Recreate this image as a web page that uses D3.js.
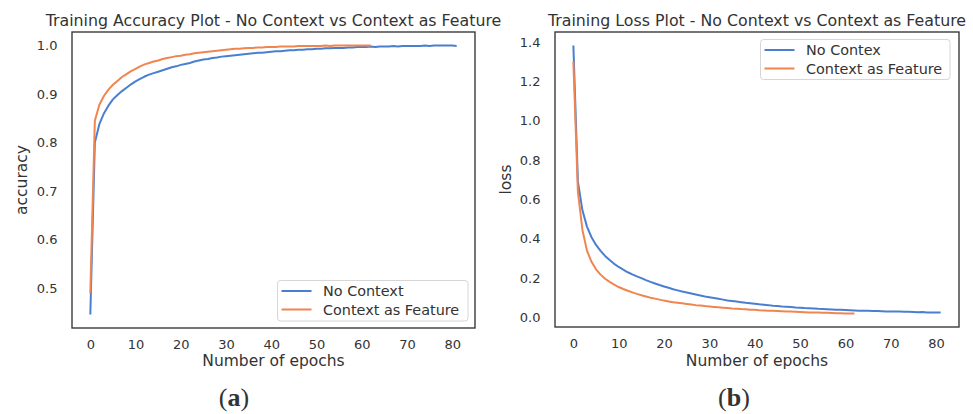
<!DOCTYPE html>
<html>
<head>
<meta charset="utf-8">
<script src="https://cdn.jsdelivr.net/npm/d3@7/dist/d3.min.js"></script>
<style>
  html, body { margin: 0; padding: 0; background: #fff; }
  svg { display: block; }
  text { font-family: "DejaVu Sans", sans-serif; fill: #333; }
</style>
</head>
<body>
<svg id="chart" width="973" height="414"></svg>
<script>
// Training accuracy per epoch (index = epoch)
const accNoContext = [
  0.446, 0.800, 0.838, 0.860, 0.876, 0.889, 0.898, 0.906, 0.913, 0.920,
  0.926, 0.931, 0.936, 0.940, 0.943, 0.946, 0.949, 0.952, 0.955, 0.957,
  0.960, 0.962, 0.964, 0.967, 0.969, 0.971, 0.972, 0.974, 0.975, 0.977,
  0.978, 0.979, 0.980, 0.981, 0.982, 0.983, 0.984, 0.985, 0.985, 0.986,
  0.987, 0.988, 0.988, 0.989, 0.990, 0.990, 0.991, 0.991, 0.992, 0.992,
  0.993, 0.993, 0.994, 0.994, 0.995, 0.995, 0.995, 0.996, 0.996, 0.997,
  0.997, 0.997, 0.998, 0.997, 0.998, 0.998, 0.998, 0.999, 0.998, 0.999,
  0.999, 0.999, 0.999, 0.999, 1.000, 0.999, 1.000, 1.000, 1.000, 1.000,
  1.000, 0.999
];
const accContext = [
  0.491, 0.845, 0.878, 0.896, 0.909, 0.919, 0.927, 0.935, 0.941, 0.947,
  0.952, 0.957, 0.961, 0.964, 0.967, 0.969, 0.972, 0.974, 0.976, 0.978,
  0.979, 0.981, 0.982, 0.984, 0.985, 0.986, 0.987, 0.988, 0.989, 0.990,
  0.991, 0.992, 0.993, 0.993, 0.994, 0.995, 0.995, 0.996, 0.996, 0.997,
  0.997, 0.997, 0.998, 0.998, 0.998, 0.998, 0.999, 0.999, 0.999, 0.999,
  0.999, 0.999, 1.000, 0.999, 1.000, 1.000, 1.000, 1.000, 1.000, 1.000,
  1.000, 1.000, 1.000
];

// Training loss per epoch (index = epoch)
const lossNoContext = [
  1.383, 0.690, 0.545, 0.462, 0.408, 0.369, 0.339, 0.313, 0.292, 0.273,
  0.257, 0.243, 0.230, 0.219, 0.209, 0.200, 0.190, 0.181, 0.173, 0.165,
  0.158, 0.151, 0.144, 0.138, 0.132, 0.127, 0.122, 0.117, 0.112, 0.107,
  0.103, 0.099, 0.095, 0.091, 0.087, 0.084, 0.081, 0.078, 0.075, 0.073,
  0.070, 0.067, 0.065, 0.063, 0.060, 0.058, 0.056, 0.055, 0.053, 0.051,
  0.050, 0.048, 0.047, 0.046, 0.044, 0.043, 0.042, 0.041, 0.040, 0.039,
  0.038, 0.037, 0.036, 0.035, 0.035, 0.034, 0.033, 0.033, 0.032, 0.031,
  0.031, 0.030, 0.030, 0.029, 0.029, 0.028, 0.027, 0.028, 0.026, 0.026,
  0.025, 0.025
];
const lossContext = [
  1.300, 0.640, 0.445, 0.340, 0.283, 0.245, 0.218, 0.197, 0.181, 0.167,
  0.155, 0.145, 0.136, 0.128, 0.120, 0.113, 0.107, 0.101, 0.096, 0.091,
  0.086, 0.082, 0.078, 0.075, 0.072, 0.069, 0.066, 0.063, 0.061, 0.058,
  0.056, 0.054, 0.052, 0.050, 0.048, 0.046, 0.045, 0.043, 0.042, 0.040,
  0.039, 0.037, 0.036, 0.035, 0.034, 0.033, 0.032, 0.031, 0.030, 0.029,
  0.028, 0.027, 0.026, 0.026, 0.025, 0.024, 0.024, 0.023, 0.022, 0.022,
  0.021, 0.021, 0.020
];

const epochTicks = [0, 10, 20, 30, 40, 50, 60, 70, 80];
const accTicks = [0.5, 0.6, 0.7, 0.8, 0.9, 1.0];
const lossTicks = [0.0, 0.2, 0.4, 0.6, 0.8, 1.0, 1.2, 1.4];

const accLegend = ["No Context", "Context as Feature"];
const lossLegend = ["No Contex", "Context as Feature"];

const colors = ["#4a7fd0", "#f08550"];

const svg = d3.select("#chart");

// matplotlib-style 5% padding around the data range
function padded(lo, hi) {
  const m = (hi - lo) * 0.05;
  return [lo - m, hi + m];
}

function drawPanel(opt) {
  const { left, right, top, bottom } = opt.box;
  const g = svg.append("g");

  const allSeries = opt.series;
  const maxLen = d3.max(allSeries, s => s.length);
  const x = d3.scaleLinear().domain(padded(0, maxLen - 1)).range([left, right]);
  const lo = d3.min(allSeries, s => d3.min(s));
  const hi = d3.max(allSeries, s => d3.max(s));
  const y = d3.scaleLinear().domain(padded(lo, hi)).range([bottom, top]);

  // y tick labels (no tick marks)
  const yAxis = d3.axisLeft(y).tickValues(opt.yTicks).tickFormat(d3.format(".1f"))
    .tickSize(0).tickPadding(14.5);
  const ya = g.append("g").attr("transform", `translate(${left},0)`).call(yAxis);
  ya.select(".domain").remove();
  ya.selectAll("text").attr("font-size", 13).attr("font-family", "DejaVu Sans").attr("fill", "#333");

  // x tick labels
  const xAxis = d3.axisBottom(x).tickValues(epochTicks).tickFormat(d3.format("d"))
    .tickSize(0).tickPadding(12);
  const xa = g.append("g").attr("transform", `translate(0,${bottom})`).call(xAxis);
  xa.select(".domain").remove();
  xa.selectAll("text").attr("font-size", 13).attr("font-family", "DejaVu Sans").attr("fill", "#333");

  // series lines
  const line = d3.line().x((d, i) => x(i)).y(d => y(d));
  allSeries.forEach((s, k) => {
    g.append("path").datum(s)
      .attr("d", line)
      .attr("fill", "none")
      .attr("stroke", colors[k])
      .attr("stroke-width", 2)
      .attr("stroke-linejoin", "round");
  });

  // frame
  g.append("rect")
    .attr("x", left).attr("y", top)
    .attr("width", right - left).attr("height", bottom - top)
    .attr("fill", "none").attr("stroke", "#3a3a3a").attr("stroke-width", 1.4);

  // title
  g.append("text")
    .attr("x", (left + right) / 2).attr("y", 26)
    .attr("text-anchor", "middle").attr("font-size", 15.8)
    .text(opt.title);

  // axis labels
  g.append("text")
    .attr("x", (left + right) / 2).attr("y", 366)
    .attr("text-anchor", "middle").attr("font-size", 15.5)
    .text("Number of epochs");
  g.append("text")
    .attr("transform", `translate(${opt.yLabelX},${(top + bottom) / 2}) rotate(-90)`)
    .attr("text-anchor", "middle").attr("font-size", 15.5)
    .text(opt.yLabel);

  // legend
  const L = opt.legend;
  const lg = g.append("g");
  lg.append("rect")
    .attr("x", L.x).attr("y", L.y).attr("width", L.w).attr("height", L.h)
    .attr("rx", 3).attr("fill", "#fff").attr("fill-opacity", 0.8)
    .attr("stroke", "#d6d6d6").attr("stroke-width", 1);
  opt.legendLabels.forEach((lab, k) => {
    const cy = L.y + 10.5 + k * 18.5;
    lg.append("line")
      .attr("x1", L.x + 4).attr("x2", L.x + 34)
      .attr("y1", cy).attr("y2", cy)
      .attr("stroke", colors[k]).attr("stroke-width", 2);
    lg.append("text")
      .attr("x", L.x + 45.5).attr("y", cy + 5)
      .attr("font-size", 14.4)
      .text(lab);
  });

  // panel caption
  const cap = svg.append("text")
    .attr("x", opt.captionX).attr("y", 406)
    .attr("text-anchor", "middle")
    .style("font-family", "'Liberation Serif', serif")
    .attr("font-size", 26).attr("fill", "#111");
  cap.append("tspan").text("(");
  cap.append("tspan").attr("font-weight", "bold").text(opt.caption);
  cap.append("tspan").text(")");
}

drawPanel({
  box: { left: 72, right: 475, top: 32, bottom: 328 },
  series: [accNoContext, accContext],
  yTicks: accTicks,
  title: "Training Accuracy Plot - No Context vs Context as Feature",
  yLabel: "accuracy",
  yLabelX: 27,
  legend: { x: 277.5, y: 280.5, w: 190.5, h: 40.5 },
  legendLabels: accLegend,
  caption: "a",
  captionX: 234
});

drawPanel({
  box: { left: 555, right: 959, top: 32, bottom: 327 },
  series: [lossNoContext, lossContext],
  yTicks: lossTicks,
  title: "Training Loss Plot - No Context vs Context as Feature",
  yLabel: "loss",
  yLabelX: 511,
  legend: { x: 760.5, y: 39.5, w: 189.5, h: 40 },
  legendLabels: lossLegend,
  caption: "b",
  captionX: 734
});
</script>
</body>
</html>
